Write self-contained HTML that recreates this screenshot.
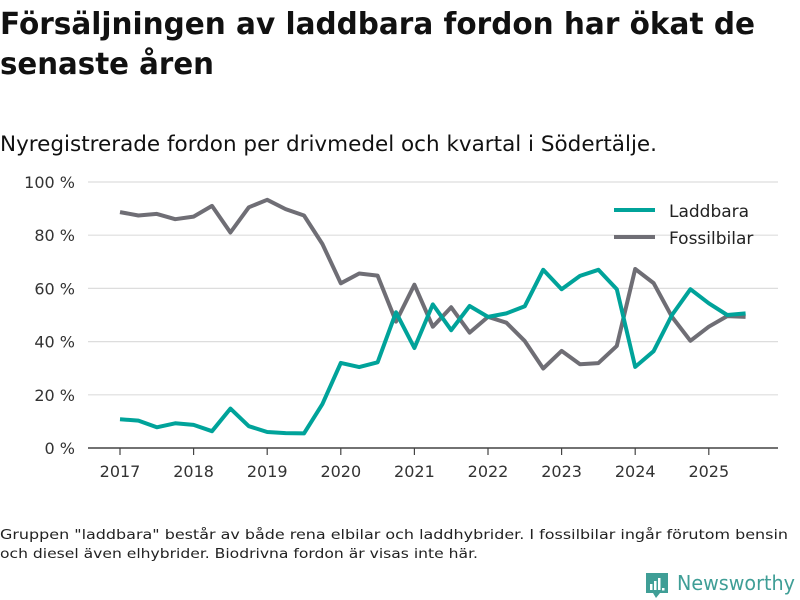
<!DOCTYPE html>
<html><head><meta charset="utf-8"><style>
body{margin:0;background:#fff;}
svg{display:block;font-family:"DejaVu Sans","Liberation Sans",sans-serif;}
</style></head><body>
<svg id="chart" width="800" height="600" viewBox="0 0 800 600">
<text x="0" y="34" font-size="30" font-weight="bold" fill="#111" textLength="755" lengthAdjust="spacingAndGlyphs">Försäljningen av laddbara fordon har ökat de</text>
<text x="0" y="74" font-size="30" font-weight="bold" fill="#111" textLength="214" lengthAdjust="spacingAndGlyphs">senaste åren</text>
<text x="0" y="151" font-size="21" fill="#111" textLength="657" lengthAdjust="spacingAndGlyphs">Nyregistrerade fordon per drivmedel och kvartal i Södertälje.</text>
<g id="grid"></g>
<g id="xaxis"></g>
<g id="lines"></g>
<g>
<line x1="614" y1="210" x2="655" y2="210" stroke="#00a39a" stroke-width="4"/>
<text x="669" y="217" font-size="17" fill="#222">Laddbara</text>
<line x1="614" y1="237" x2="655" y2="237" stroke="#6f6e75" stroke-width="4"/>
<text x="669" y="244" font-size="17" fill="#222">Fossilbilar</text>
</g>
<text x="0" y="539" font-size="13.5" fill="#222" textLength="788" lengthAdjust="spacingAndGlyphs">Gruppen "laddbara" består av både rena elbilar och laddhybrider. I fossilbilar ingår förutom bensin</text>
<text x="0" y="558" font-size="13.5" fill="#222" textLength="478" lengthAdjust="spacingAndGlyphs">och diesel även elhybrider. Biodrivna fordon är visas inte här.</text>
<g>
<path d="M646 573 h22 v20 h-8 l-4 5 l-3 -5 h-7 z" fill="#3f9e96"/>
<rect x="650" y="584" width="2.5" height="6" fill="#fff"/><rect x="654" y="581" width="2.5" height="9" fill="#fff"/><rect x="658" y="578" width="2.5" height="12" fill="#fff"/><rect x="662" y="588" width="2.5" height="2.5" fill="#fff"/>
<text x="677" y="590" font-size="20" fill="#3f9e96" textLength="118" lengthAdjust="spacingAndGlyphs">Newsworthy</text>
</g>
</svg>
<script>
const years = [2017,2018,2019,2020,2021,2022,2023,2024,2025];
const yTicks = [0,20,40,60,80,100];
const laddbara = [10.8,10.3,7.8,9.3,8.7,6.3,14.8,8.2,6,5.6,5.5,16.5,32,30.4,32.2,51,37.6,54,44.3,53.4,49.3,50.6,53.3,67,59.7,64.7,67,59.7,30.5,36.4,50,59.7,54.4,50,50.6];
const fossilbilar = [88.7,87.4,88,86,87,91,81,90.5,93.3,89.8,87.4,76.7,61.9,65.6,64.8,47.5,61.4,45.6,52.9,43.4,49.3,47.1,40.2,29.9,36.5,31.5,31.9,38.4,67.3,62,49.3,40.3,45.6,49.6,49.3];
const NS="http://www.w3.org/2000/svg";
const yS=v=>448-v*2.66;
const xS=t=>120+(t-2017)*73.6;
function mk(tag,attrs,parent){const e=document.createElementNS(NS,tag);for(const k in attrs)e.setAttribute(k,attrs[k]);parent.appendChild(e);return e;}
const grid=document.getElementById('grid');
yTicks.forEach(v=>{
  const l=mk('line',{x1:88,x2:778,y1:yS(v),y2:yS(v),stroke:v===0?'#444':'#ddd','stroke-width':v===0?1.5:1.2},grid);
  
  
  const t=mk('text',{x:75,y:yS(v)+6,'font-size':16,fill:'#333','text-anchor':'end'},grid);
  t.textContent=v+' %';
  
  
});
const xa=document.getElementById('xaxis');
years.forEach(y=>{
  const tk=mk('line',{x1:xS(y),x2:xS(y),y1:448,y2:455,stroke:'#444','stroke-width':1.2},xa);
  
  
  const t=mk('text',{x:xS(y),y:477,'font-size':16,fill:'#333','text-anchor':'middle'},xa);
  t.textContent=y;
  
  
});
const lines=document.getElementById('lines');
function draw(data,color,name){
  const d=data.map((v,i)=>(i?'L':'M')+xS(2017+i/4).toFixed(1)+' '+yS(v).toFixed(1)).join(' ');
  const p=mk('path',{d:d,fill:'none',stroke:color,'stroke-width':4,'stroke-linejoin':'round'},lines);
  
  
}
draw(fossilbilar,'#6f6e75','line-fossilbilar');
draw(laddbara,'#00a39a','line-laddbara');
</script>
</body></html>
